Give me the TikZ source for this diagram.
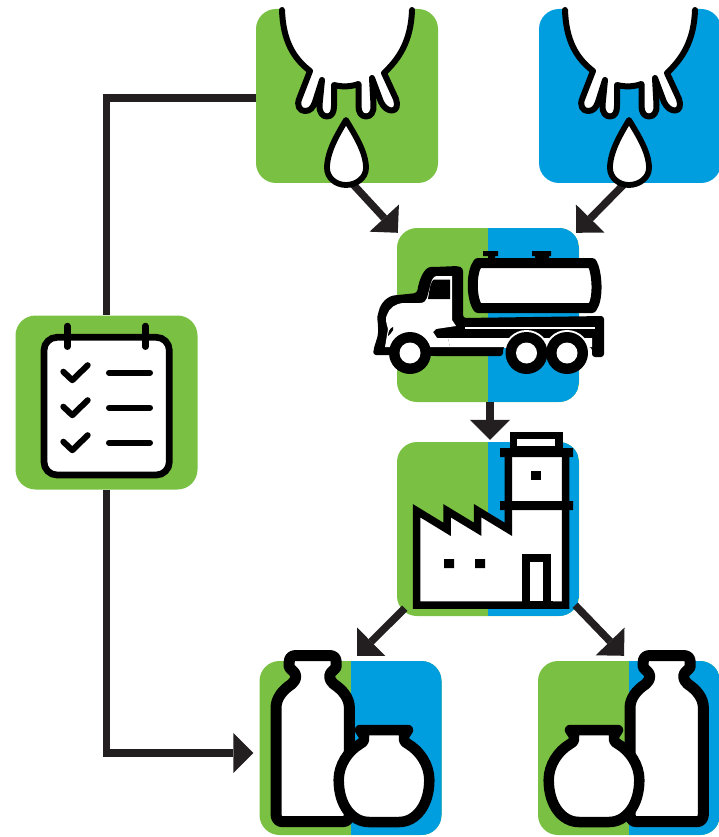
\documentclass[tikz,border=0pt]{standalone}
\usetikzlibrary{arrows.meta}
\definecolor{grn}{HTML}{7AC143}
\definecolor{blu}{HTML}{009DDF}
\definecolor{conn}{HTML}{231F20}
\tikzset{
  box/.style={rectangle,minimum width=182pt,minimum height=174pt,inner sep=0pt,rounded corners=20pt},
  greenbox/.style={box,fill=grn},
  bluebox/.style={box,fill=blu},
  splitbox/.style={box,fill=grn,path picture={\fill[blu,sharp corners] (path picture bounding box.north) rectangle (path picture bounding box.south east);}},
  link/.style={draw=conn,line width=7.5pt},
  arrowlink/.style={link,-{Triangle[length=20pt,width=40pt,line width=0pt]}},
  ink/.style={draw=black,line join=round,line cap=round},
  udder/.pic={
    \fill[white] (282,8) rectangle (412,12);
    \path[ink,fill=white,line width=6pt]
      (282,10) .. controls (283,40) and (293,58) .. (310,71)
      -- (299.5,98) .. controls (296,106) and (300,111) .. (305,111) .. controls (310,111) and (313,108) .. (315,102)
      -- (322,80) -- (319.5,105) .. controls (319,113) and (323,116.5) .. (327,116.5) .. controls (332,116.5) and (334,112) .. (334,106)
      -- (334,85) .. controls (342,87) and (350,87) .. (358.5,84)
      -- (358.5,106) .. controls (358.5,112) and (361,116.5) .. (366,116.5) .. controls (371,116.5) and (374,112) .. (373.5,105)
      -- (372,78) -- (381,102) .. controls (384,108) and (388,110.5) .. (392,110.5) .. controls (397,110.5) and (398,105) .. (396,99)
      -- (384,73) .. controls (400,58) and (411,40) .. (412,10);
    \path[ink,fill=white,line width=5.8pt]
      (346,120) .. controls (355,135) and (366,152) .. (366,168)
      .. controls (366,178) and (356,185) .. (346,185)
      .. controls (336,185) and (327,178) .. (327,168)
      .. controls (327,152) and (337,135) .. cycle;
  },
  bottle/.pic={
    \path[ink,fill=white,line width=11pt]
      (-17,15.5) -- (17,15.5) .. controls (21,15.5) and (23.5,18) .. (23.5,22)
      -- (23.5,27) .. controls (22,30) and (17,32) .. (17,36) .. controls (17,40) and (19,42) .. (21,44)
      .. controls (30,50) and (36.7,58) .. (36.7,68)
      -- (36.7,174) .. controls (36.7,179) and (34,181.7) .. (30,181.7)
      -- (-30,181.7) .. controls (-34,181.7) and (-36.7,179) .. (-36.7,174)
      -- (-36.7,68) .. controls (-36.7,58) and (-30,50) .. (-21,44)
      .. controls (-19,42) and (-17,40) .. (-17,36) .. controls (-17,32) and (-22,30) .. (-23.5,27)
      -- (-23.5,22) .. controls (-23.5,18) and (-21,15.5) .. (-17,15.5) -- cycle;
  },
  jar/.pic={
    \path[ink,fill=white,line width=10.5pt]
      (-24,90) -- (24,90) -- (20,96) .. controls (19,99) and (20,102) .. (24,104)
      .. controls (36,111) and (45.3,125) .. (45.3,140)
      .. controls (45.3,165) and (32,182) .. (15,182)
      -- (-15,182) .. controls (-32,182) and (-45.3,165) .. (-45.3,140)
      .. controls (-45.3,125) and (-36,111) .. (-24,104)
      .. controls (-20,102) and (-19,99) .. (-20,96) -- (-24,90) -- cycle;
  },
  tick/.pic={
    \draw[ink,line width=6pt] (63.3,0) -- (72.3,8.5) -- (87.7,-6.5);
    \draw[ink,line width=6pt] (109,1) -- (150,1);
  },
  tyre/.pic={
    \fill[black] (0,0) circle (21);
    \fill[white] (0,0) circle (10.5);
  }
}
\begin{document}
\begin{tikzpicture}[x=1pt,y=-1pt]
\useasboundingbox (0,0) rectangle (718,837);
% boxes
\node[greenbox] (udderG) at (347,96) {};
\node[bluebox] (udderB) at (630,96) {};
\node[splitbox] (truck) at (488,315) {};
\node[splitbox] (factory) at (488,529) {};
\node[splitbox] (bottlesL) at (350.5,748) {};
\node[splitbox] (bottlesR) at (629,748) {};
\node[greenbox] (checklist) at (106.5,402.5) {};
% connectors
\draw[link] ([shift={(0,2)}]udderG.west) -| (checklist.north);
\draw[arrowlink] (checklist.south) |- ([shift={(-6,5)}]bottlesL.west);
\draw[arrowlink] ([shift={(5,0)}]udderG.south) -- ([shift={(1,5)}]truck.north west);
\draw[arrowlink] ([shift={(-5,0)}]udderB.south) -- ([shift={(-3,5)}]truck.north east);
\draw[arrowlink] ([shift={(2,0)}]truck.south) -- ([shift={(2,-2)}]factory.north);
\draw[arrowlink] ([shift={(8,-8)}]factory.south west) -- ([shift={(6.5,-5)}]bottlesL.north);
\draw[arrowlink] ([shift={(-4,-11)}]factory.south east) -- ([shift={(-5,-5)}]bottlesR.north);
% udders
\pic at (0,0) {udder};
\pic at (283,0) {udder};
% truck
\fill[black,rounded corners=3pt]
  (373,355) .. controls (374,345) and (378,338) .. (378,330)
  .. controls (378,323) and (377,318) .. (378,314)
  .. controls (381,302) and (388,296) .. (398,295)
  -- (417,293) .. controls (419,280) and (424,267) .. (434,267)
  -- (458,266) -- (463,268) -- (463,318) -- (604,316) -- (604,357) -- (592,357) -- (592,347)
  -- (503,347) -- (503,356) -- (432,356) -- (385,355) -- cycle;
\fill[white] (385,347) -- (388,329) .. controls (386,322) and (385,318) .. (387,315)
  .. controls (389,308) and (395,304) .. (403,303)
  -- (420,303) .. controls (424,303) and (426,301) .. (427,298)
  -- (431,283) .. controls (432,279) and (434,276) .. (437,276)
  -- (452,276) -- (452,320) -- (456,326)
  -- (436,329) -- (433,332) -- (437,338) -- (448,338) -- (450,347) -- cycle;
\fill[black] (434,279.5) .. controls (431,281) and (430,286) .. (428,299) -- (450,299) -- (450,279.5) -- cycle;
\fill[black] (393,327) .. controls (390,328) and (388,332) .. (388,336) -- (391,333) .. controls (393,331) and (394,329) .. (393,327) -- cycle;
\fill[white] (465,327) rectangle (595,329);
\fill[white] (448,338) -- (592,338) -- (592,347) -- (450,347) -- cycle;
\begin{scope}
  \clip (490,320) rectangle (600,347);
  \fill[white] (526.5,353) circle (23) (567,353) circle (23);
\end{scope}
\pic at (410,353) {tyre};
\pic at (526.5,353) {tyre};
\pic at (567,353) {tyre};
\fill[black] (483,251) rectangle (498,256) (488,256) rectangle (495,260);
\fill[black] (532,251) rectangle (551,256) (535,256) rectangle (549,260);
\path[ink,fill=white,line width=10pt]
  (478,263) -- (592,263) .. controls (597,272) and (599,298) .. (592,308)
  -- (478,308) .. controls (471,298) and (471,272) .. (478,263) -- cycle;
% factory
\path[draw=black,fill=white,line width=7.5pt,line join=miter,miter limit=10]
  (416.5,605) -- (416.5,510.7) -- (447,529.3) -- (447,510.7) -- (477.7,529.3) -- (477.7,510.7) -- (508.3,529.3)
  -- (508.3,452) -- (565.5,452) -- (565.5,605) -- cycle;
\draw[fill=white,draw=black,line width=7.5pt] (513.7,435.5) rectangle (559,450);
\fill[black] (500,448) rectangle (573,457) (500,501) rectangle (573,510);
\fill[black] (531,471) rectangle (541,480);
\fill[black] (444,559) rectangle (454,568) (475,559) rectangle (485,568);
\draw[fill=white,draw=black,line width=8pt] (526,558) rectangle (547,605);
\fill[black] (522,601) rectangle (553,609);
% bottles
\pic at (312.7,640) {bottle};
\pic at (384,640) {jar};
\pic at (666.7,640) {bottle};
\pic at (594,640) {jar};
% checklist
\draw[black,fill=white,line width=6.7pt,rounded corners=13pt] (44,337.3) rectangle (169.3,475);
\draw[ink,line width=6.5pt] (67.3,326) -- (67.3,346.7);
\draw[ink,line width=6.5pt] (145.3,326) -- (145.3,346.7);
\pic at (0,371.7) {tick};
\pic at (0,406.7) {tick};
\pic at (0,441.7) {tick};
\end{tikzpicture}
\end{document}
